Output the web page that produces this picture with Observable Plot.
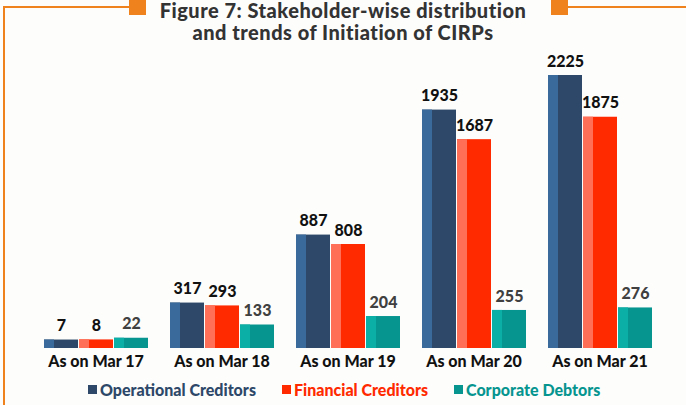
<!DOCTYPE html>
<html><head><meta charset="utf-8">
<script src="https://cdn.jsdelivr.net/npm/d3@7"></script>
<script src="https://cdn.jsdelivr.net/npm/@observablehq/plot@0.6"></script>
<style>
body{margin:0;background:#fdfdfc;}
#wrap{position:relative;width:686px;height:405px;overflow:hidden;font-family:Lato,"Open Sans",sans-serif;}
.deco{position:absolute;background:#f0821e;}
#title{position:relative;top:-1px;height:44px;text-align:center;font-weight:900;font-size:20px;letter-spacing:0.5px;line-height:22px;color:#333;}
#chart svg{display:block;}
#legend{height:31px;display:flex;align-items:center;padding-left:88px;gap:26px;font-weight:900;font-size:16px;}
.item{display:flex;align-items:center;}
.sw{width:9px;height:9px;margin-right:3px;}
</style>
</head><body>
<div id="wrap">
  <div class="deco" style="left:3px;top:6px;width:126px;height:2px;"></div>
  <div class="deco" style="left:3px;top:6px;width:2px;height:400px;"></div>
  <div class="deco" style="left:129px;top:0px;width:17px;height:15px;"></div>
  <div class="deco" style="left:551px;top:0px;width:17px;height:15px;"></div>
  <div class="deco" style="left:568px;top:6px;width:118px;height:2px;"></div>
  <div id="title">Figure 7: Stakeholder-wise distribution<br>and trends of Initiation of CIRPs</div>
  <div id="chart"></div>
  <div id="legend"></div>
</div>
<script>
const periods = ["As on Mar 17","As on Mar 18","As on Mar 19","As on Mar 20","As on Mar 21"];
const series = ["Operational Creditors","Financial Creditors","Corporate Debtors"];
const operational = [7,317,887,1935,2225];
const financial = [8,293,808,1687,1875];
const corporate = [22,133,204,255,276];
const darkColors = ["#2d4868","#ff2a00","#079590"];
const lightColors = ["#3a6a9c","#ff6f58","#0bafa5"];
const labelColors = ["#111111","#111111","#404040"];
const yMin = -64;
const yMax = 2225;

const seriesValues = [operational, financial, corporate];
const rows = [];
periods.forEach((p, i) => {
  series.forEach((s, j) => {
    rows.push({period: p, series: s, value: seriesValues[j][i], dark: darkColors[j], light: lightColors[j], lab: labelColors[j]});
  });
});

const chart = Plot.plot({
  width: 686, height: 330,
  marginLeft: 41, marginRight: 32, marginTop: 31, marginBottom: 26,
  fx: {domain: periods, paddingInner: 0.165, paddingOuter: 0, label: null},
  x: {domain: series, paddingInner: 0.03, paddingOuter: 0, axis: null},
  y: {domain: [yMin, yMax], axis: null},
  color: {type: "identity"},
  style: {fontFamily: "Lato, sans-serif", background: "transparent", overflow: "visible"},
  marks: [
    Plot.barY(rows, {fx: "period", x: "series", y1: yMin, y2: "value", fill: "dark"}),
    Plot.barY(rows, {fx: "period", x: "series", y1: yMin, y2: "value", fill: "light", insetRight: 24}),
    Plot.text(rows, {fx: "period", x: "series", y: "value", text: d => String(d.value), dy: -14, fill: "lab", fontSize: 16, fontWeight: 900}),
    Plot.axisFx({anchor: "bottom", tickSize: 0, tickPadding: 7, fontSize: 16, fontWeight: 900, fill: "#111", label: null})
  ]
});
document.getElementById("chart").append(chart);

const legend = document.getElementById("legend");
series.forEach((s, j) => {
  const it = document.createElement("div");
  it.className = "item";
  it.style.color = darkColors[j];
  const sw = document.createElement("div");
  sw.className = "sw";
  sw.style.background = darkColors[j];
  it.append(sw, document.createTextNode(s));
  legend.append(it);
});
</script>
</body></html>
